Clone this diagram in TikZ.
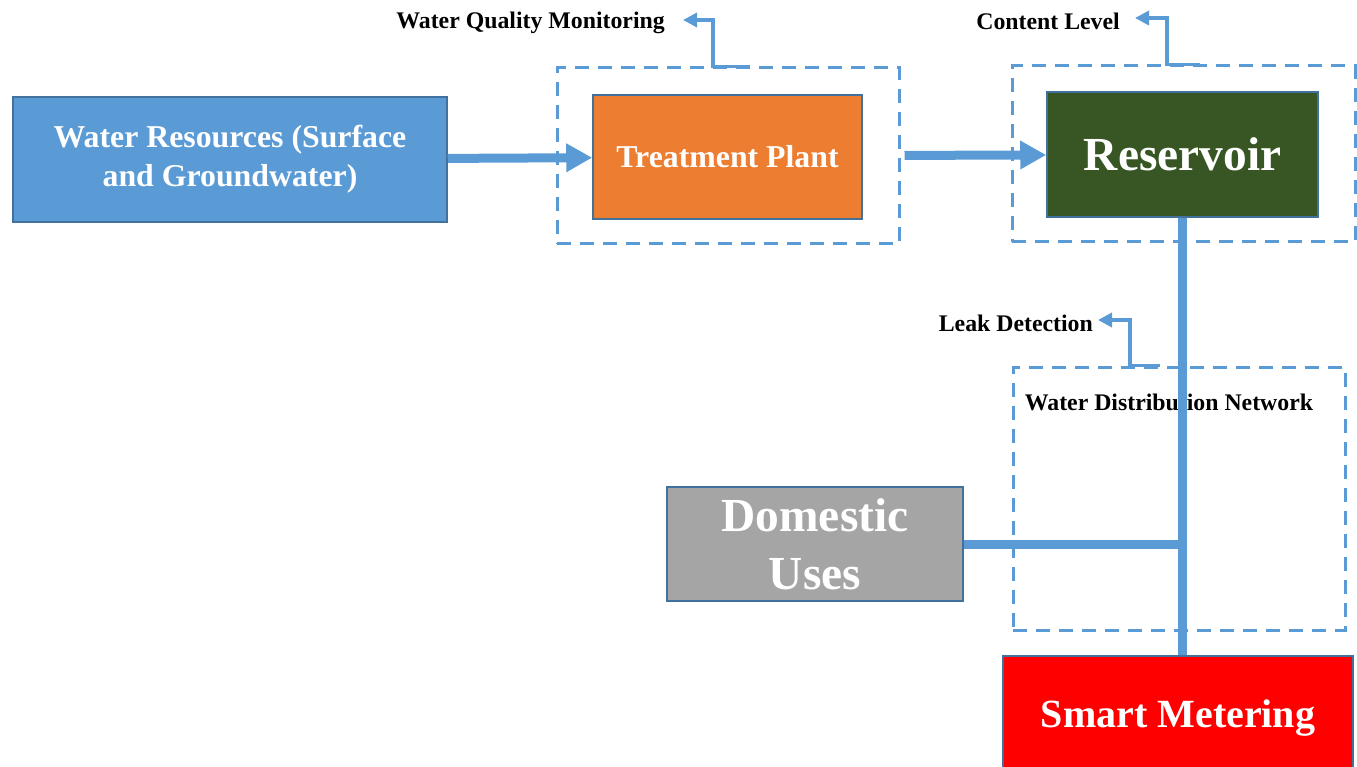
\documentclass[tikz,border=0pt]{standalone}
\usepackage{fontspec}
\setmainfont{Liberation Serif}
\usetikzlibrary{arrows.meta,positioning,calc}
\definecolor{pipeblue}{HTML}{5B9BD5}
\definecolor{edgeblue}{HTML}{41719C}
\definecolor{plantorange}{HTML}{ED7D31}
\definecolor{reservoirgreen}{HTML}{375623}
\definecolor{domesticgray}{HTML}{A5A5A5}
\definecolor{meterred}{HTML}{FF0000}

\begin{document}
\begin{tikzpicture}[
  x=1pt, y=-1pt,
  box/.style={draw=edgeblue, line width=1.5pt, text=white, align=center, inner sep=0pt},
  midtext/.style={font=\bfseries\fontsize{31.8}{39}\selectfont},
  bigtext/.style={font=\bfseries\fontsize{47.4}{58}\selectfont},
  zone/.style={draw=pipeblue, line width=3pt, dash pattern=on 14pt off 9pt},
  tag/.style={font=\bfseries\fontsize{23.8}{28}\selectfont, inner sep=2pt, yshift=-3pt},
  pipe/.style={draw=pipeblue, line width=9pt},
  arrow/.style={pipe, -{Triangle[length=26pt,width=27pt]}},
  tap/.style={draw=pipeblue, line width=3.5pt, -{Triangle[length=14pt,width=14pt]}}
]
\useasboundingbox (0,0) rectangle (1357,767);
\node[box, midtext, fill=pipeblue, minimum width=434pt, minimum height=125pt] (source) at (230,159.5) {Water Resources (Surface\\and Groundwater)};
\node[zone, minimum width=342pt, minimum height=176pt] (plantzone) at (728,156) {};
\node[box, midtext, fill=plantorange, minimum width=269pt, minimum height=124pt] (plant) at (727.5,157) {Treatment Plant};
\node[zone, minimum width=343pt, minimum height=176pt] (reservoirzone) at (1183.5,154) {};
\node[box, bigtext, fill=reservoirgreen, minimum width=271pt, minimum height=125pt] (reservoir) at (1182.5,154.5) {Reservoir};
\node[zone, minimum width=332pt, minimum height=263pt] (network) at (1179,498.5) {};
\node[tag, yshift=3pt] (networklabel) at (1169,402) {Water Distribution Network};
\node[box, bigtext, fill=domesticgray, minimum width=296pt, minimum height=114pt] (domestic) at (815,544) {Domestic\\Uses};
\node[box, font=\bfseries\fontsize{40}{48}\selectfont, fill=meterred, minimum width=350pt, minimum height=125pt] (meter) at (1178,718.5) {Smart Metering};

\coordinate (qualityend) at (683,20);
\node[tag, left=16pt of qualityend] (quality) {Water Quality Monitoring};
\coordinate (contentend) at (1135,18);
\node[tag, left=13pt of contentend] (content) {Content Level};
\coordinate (leakend) at (1098,320);
\node[tag, left=3pt of leakend] (leak) {Leak Detection};

\draw[tap] (plantzone.north -| 750,0) -| ($(qualityend)+(30,0)$) -- (qualityend);
\draw[tap] (reservoirzone.north -| 1200,0) -| ($(contentend)+(32,0)$) -- (contentend);
\draw[tap] (network.north -| 1160,0) -| ($(leakend)+(32,0)$) -- (leakend);
\draw[arrow] (source) -- (plant);
\draw[arrow, shorten <=4pt] (plantzone) -- (reservoir);
\draw[pipe] (reservoir) -- (reservoir |- meter.north);
\draw[pipe] (domestic) -- (domestic -| reservoir);
\end{tikzpicture}
\end{document}
